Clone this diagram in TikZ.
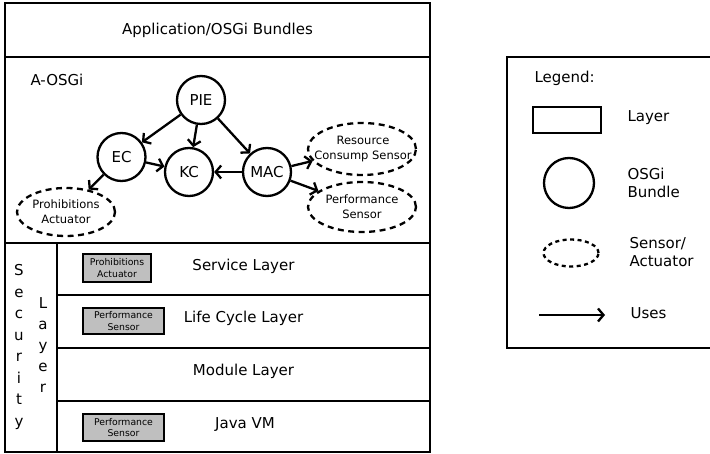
\documentclass[tikz,border=0pt]{standalone}
\usepackage{fontspec}
\setmainfont{DejaVu Sans}
\usetikzlibrary{shapes.geometric,arrows,arrows.meta,positioning}

\tikzset{
  layerbox/.style={draw, line width=2.3pt, rectangle, inner sep=0pt},
  bundle/.style={draw, line width=2.3pt, circle, minimum size=48pt, inner sep=0pt, font=\fontsize{15}{18}\selectfont},
  sensor/.style={draw, line width=2.3pt, ellipse, dashed, dash pattern=on 6pt off 4.5pt, inner sep=0pt},
  sensortext/.style={align=center, inner sep=0pt, font=\fontsize{11.5}{15}\selectfont},
  graybox/.style={draw, line width=2.3pt, fill=gray!50, rectangle, inner sep=0pt, align=center, font=\fontsize{9.3}{11.5}\selectfont},
  uses/.style={-{Straight Barb[length=5.5pt, width=13pt]}, line width=2.3pt},
  lbl/.style={font=\fontsize{15}{18}\selectfont}
}

\begin{document}
\begin{tikzpicture}[x=1pt, y=-1pt]
    \useasboundingbox (0,0) rectangle (710,454);

    % stack of layers
    \node[layerbox, minimum width=425pt, minimum height=54pt, lbl] (app) at (217.5,30) {Application/OSGi Bundles};
    \node[layerbox, minimum width=425pt, minimum height=186pt] (aosgi) at (217.5,150) {};
    \node[lbl, anchor=west] (aosgilbl) at (27,80) {A-OSGi};
    \node[layerbox, minimum width=52pt, minimum height=209pt] (security) at (31,347.5) {};
    \node[layerbox, minimum width=373pt, minimum height=52pt] (service) at (243.5,269) {};
    \node[layerbox, minimum width=373pt, minimum height=53pt] (lifecycle) at (243.5,321.5) {};
    \node[layerbox, minimum width=373pt, minimum height=53pt] (module) at (243.5,374.5) {};
    \node[layerbox, minimum width=373pt, minimum height=51pt] (javavm) at (243.5,426.5) {};
    \node[lbl] (servicelbl) at (243.5,266) {Service Layer};
    \node[lbl] (lifecyclelbl) at (243.5,318) {Life Cycle Layer};
    \node[lbl] (modulelbl) at (243.5,371) {Module Layer};
    \node[lbl] (javavmlbl) at (245,425) {Java VM};
    \node[align=center, font=\fontsize{15}{21.5}\selectfont] (seclbl) at (19,347) {S\\e\\c\\u\\r\\i\\t\\y};
    \node[align=center, font=\fontsize{15}{21}\selectfont] (seclayerlbl) at (43,345) {L\\a\\y\\e\\r};

    % sensors and actuators in the layers
    \node[graybox, minimum width=68pt, minimum height=28pt] (svcact) at (117,268) {Prohibitions\\Actuator};
    \node[graybox, minimum width=81pt, minimum height=26pt] (lcsens) at (123.5,321) {Performance\\Sensor};
    \node[graybox, minimum width=81pt, minimum height=27pt] (jvmsens) at (123.5,427.5) {Performance\\Sensor};

    % A-OSGi bundles
    \node[bundle] (pie) at (201,100) {PIE};
    \node[bundle] (ec) at (121.5,157) {EC};
    \node[bundle] (kc) at (189,172) {KC};
    \node[bundle] (mac) at (267,172) {MAC};
    \node[sensor, minimum width=108pt, minimum height=52pt] (rcs) at (362,149) {};
    \node[sensortext] (rcstext) at (363,149) {Resource\\Consump Sensor};
    \node[sensor, minimum width=108pt, minimum height=50pt] (perf) at (362,207) {};
    \node[sensortext] (perftext) at (362,207) {Performance\\Sensor};
    \node[sensor, minimum width=98pt, minimum height=48pt] (prohib) at (66,212) {};
    \node[sensortext] (prohibtext) at (66,212) {Prohibitions\\Actuator};

    \draw[uses] (pie) -- (ec);
    \draw[uses] (pie) -- (kc);
    \draw[uses] (pie) -- (mac);
    \draw[uses] (ec) -- (kc);
    \draw[uses] (mac) -- (kc);
    \draw[uses] (ec) -- (prohib);
    \draw[uses] (mac) -- (rcs);
    \draw[uses] (mac) -- (perf);

    % legend
    \node[layerbox, minimum width=205pt, minimum height=291pt] (legend) at (609.5,202.5) {};
    \node[lbl, anchor=west] (legendlbl) at (531,78) {Legend:};
    \node[layerbox, minimum width=68pt, minimum height=26pt] (leglayer) at (567,120) {};
    \node[lbl, anchor=west] (leglayerlbl) at (624,118) {Layer};
    \node[draw, line width=2.3pt, circle, minimum size=50pt, inner sep=0pt] (legbundle) at (569,183) {};
    \node[lbl, anchor=west, align=left] (legbundlelbl) at (624,183) {OSGi\\Bundle};
    \node[sensor, dash pattern=on 4pt off 3.5pt, minimum width=55pt, minimum height=27pt] (legsensor) at (571,253) {};
    \node[lbl, anchor=west, align=left] (legsensorlbl) at (626,252) {Sensor/\\Actuator};
    \coordinate (legfrom) at (539,315);
    \coordinate (legto) at (605,315);
    \draw[uses] (legfrom) -- (legto);
    \node[lbl, anchor=west] (legusesl) at (627,313) {Uses};
\end{tikzpicture}
\end{document}
